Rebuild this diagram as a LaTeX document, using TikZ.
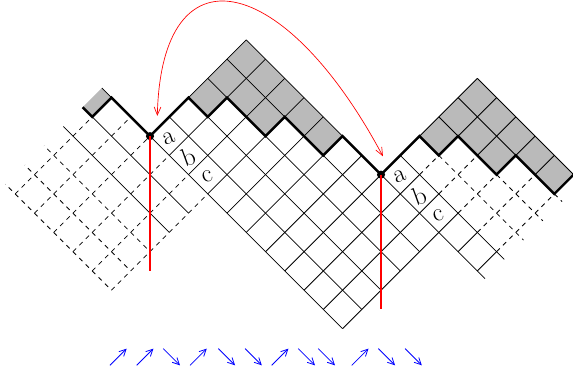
\documentclass[tikz,border=0pt]{standalone}
\usetikzlibrary{arrows.meta, positioning}

\begin{document}
\begin{tikzpicture}[x=0.5cm, y=0.5cm, >=Latex]
    % Define styles for cells, boundary, labels and arrows
    \tikzstyle{cell} = [line width=0.6pt]
    \tikzstyle{ghost} = [line width=0.6pt, dash pattern=on 3.35pt off 3.35pt]
    \tikzstyle{rim} = [line width=1.8pt, line join=miter]
    \tikzstyle{shade} = [fill=black!27]
    \tikzstyle{dot} = [circle, fill=black, inner sep=0pt, minimum size=6pt]
    \tikzstyle{lbl} = [font=\fontsize{19}{20}\selectfont, rotate=20, inner sep=0pt]
    \tikzstyle{cut} = [draw=red, line width=0.9pt]
    \tikzstyle{swap} = [draw=red, line width=0.5pt, {Straight Barb[length=6pt,width=5pt]}-{Straight Barb[length=6pt,width=5pt]}]
    \tikzstyle{move} = [draw=blue, line width=0.6pt, -{Straight Barb[length=5pt,width=5pt]}]

    \useasboundingbox (-7.79,-12.42) rectangle (21.97,7.07);

    % Cells, drawn in the rotated (s,t) frame
    \begin{scope}[cm={1,1,1,-1,(0,0)}]
        \clip (-6,-2.5) rectangle (11,13);
        \fill[shade] (-1,-3) -- (0,-3) -- (0,-2) -- (-1,-2) -- cycle;
        \fill[shade] (2,0) -- (5,0) -- (5,5) -- (4,5) -- (4,3) -- (3,3) -- (3,1) -- (2,1) -- cycle;
        \fill[shade] (7,7) -- (10,7) -- (10,12) -- (9,12) -- (9,10) -- (8,10) -- (8,8) -- (7,8) -- cycle;

        % left copy
        \foreach \s in {-5,-4,-3} \draw[ghost] (\s,-3) -- (\s,3);
        \draw[ghost] (-5,-2) -- (-1,-2);
        \foreach \t in {-1,...,3} \draw[ghost] (-5,\t) -- (0,\t);
        \draw[cell] (-2,-3) -- (-2,3) (-1,-2) -- (-1,3) (0,-3) -- (0,-2);

        % middle block
        \foreach \s in {0,...,5} \draw[cell] (\s,0) -- (\s,10);
        \foreach \t in {0,...,10} \draw[cell] (0,\t) -- (5,\t);

        % right copy
        \draw[cell] (5,10) -- (5,12.4) (6,7) -- (6,12.4);
        \foreach \t in {8,...,12} \draw[cell] (5,\t) -- (6,\t);
        \foreach \s/\a/\b in {8/7/8, 9/7/10, 10/7/12} \draw[cell] (\s,\a) -- (\s,\b);
        \foreach \t/\a in {7/7, 8/8, 9/8, 10/8, 11/9} \draw[cell] (\a,\t) -- (10,\t);
        \foreach \s/\a in {7/8, 8/10, 9/12} \draw[ghost] (\s,\a) -- (\s,12.4);
        \foreach \t/\b in {8/7, 9/8, 10/8, 11/9, 12/9} \draw[ghost] (6,\t) -- (\b,\t);

        % boundary path
        \draw[rim] (-1,-3) -- (-1,-2) -- (0,-2) -- (0,0) -- (2,0) -- (2,1) -- (3,1) -- (3,3)
            -- (4,3) -- (4,5) -- (5,5) -- (5,7) -- (7,7) -- (7,8) -- (8,8) -- (8,10)
            -- (9,10) -- (9,12) -- (10,12);
    \end{scope}

    % Nodes placement
    \node[dot] (p) at (0,0) {};
    \node[dot] (q) at (12,-2) {};
    \coordinate (pend) at (0,-7);
    \coordinate (qend) at (12,-9);
    \coordinate (pin) at (0.38,1.05);
    \coordinate (qin) at (12.1,-1.05);

    \node[lbl] (la) at (1,-0.1) {a};
    \node[lbl] (lb) at (2,-1.1) {b};
    \node[lbl] (lc) at (3,-2.1) {c};
    \node[lbl] (ra) at (13,-2.1) {a};
    \node[lbl] (rb) at (14,-3.1) {b};
    \node[lbl] (rc) at (15,-4.1) {c};

    % Draw edges
    \draw[cut] (p.center) -- (pend);
    \draw[cut] (q.center) -- (qend);
    \draw[swap] (pin) .. controls (0.6,10) and (7,8.5) .. (qin);

    % steps of the boundary
    \foreach \x/\d in {-2.08/1, -0.69/1, 0.69/-1, 2.08/1, 3.55/-1, 4.94/-1,
                       6.32/1, 7.70/-1, 8.74/-1, 10.48/1, 11.86/-1, 13.25/-1}
        \draw[move] (\x,-11.47-0.435*\d) -- ++(0.87,0.87*\d);
\end{tikzpicture}
\end{document}
